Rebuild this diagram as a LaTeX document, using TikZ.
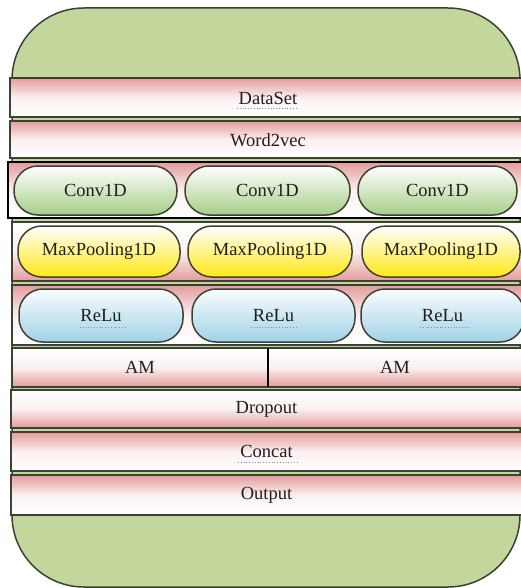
\documentclass[tikz,border=0pt]{standalone}
\usepackage{fontspec}
\setmainfont{Liberation Serif}
\definecolor{bggreen}{RGB}{195,214,155}
\definecolor{bandpink}{RGB}{228,155,155}
\definecolor{edge}{RGB}{58,66,52}
\definecolor{pillgreen}{RGB}{165,206,135}
\definecolor{pillyellow}{RGB}{255,232,20}
\definecolor{pillblue}{RGB}{160,210,230}
\definecolor{txt}{RGB}{35,30,30}
\definecolor{spellc}{RGB}{120,140,190}
\tikzset{
  band/.style={draw=edge, line width=1.8pt, inner sep=0pt, outer sep=0pt, anchor=north west,
    text=txt, font=\fontsize{18.5}{20}\selectfont},
  pinktop/.style={band, top color=bandpink, bottom color=white, middle color=white!85!bandpink},
  pinkbot/.style={band, top color=white, bottom color=bandpink, middle color=white!85!bandpink},
  pill/.style={draw=edge, line width=1.5pt, inner sep=0pt, outer sep=0pt, anchor=north west,
    rounded corners=24pt, text=txt, font=\fontsize{18.5}{20}\selectfont},
  convpill/.style={pill, top color=white, bottom color=pillgreen},
  maxpill/.style={pill, top color=white, bottom color=pillyellow},
  relupill/.style={pill, top color=white!95!pillblue, bottom color=pillblue},
  spell/.style={spellc, line width=0.8pt, dotted}
}
\begin{document}
\begin{tikzpicture}[x=1pt,y=-1pt]
\useasboundingbox (0,0) rectangle (521,588);
% background
\draw[fill=bggreen, draw=edge, line width=1.5pt, rounded corners=72pt] (12,8) rectangle (520,587);
% bands
\node[pinktop, minimum width=512pt, minimum height=39pt] (ds) at (10,78) {};
\node[txt, font=\fontsize{18.5}{20}\selectfont] (dst) at (268,98) {DataSet};
\node[pinktop, minimum width=512pt, minimum height=37pt] (wv) at (10,121) {};
\node[txt, font=\fontsize{18.5}{20}\selectfont] (wvt) at (268,140) {Word2vec};
\node[pinktop, draw=black, line width=1.2pt, minimum width=514pt, minimum height=56pt] (conv) at (8,162) {};
\node[pinkbot, minimum width=510pt, minimum height=59pt] (mp) at (12,222) {};
\node[pinktop, minimum width=510pt, minimum height=60pt] (rl) at (12,285) {};
\node[pinkbot, minimum width=256pt, minimum height=39pt] (am1) at (12,348) {AM};
\node[pinkbot, minimum width=254pt, minimum height=39pt] (am2) at (268,348) {AM};
\node[pinkbot, minimum width=511pt, minimum height=38pt] (dr) at (11,390) {Dropout};
\node[pinktop, minimum width=511pt, minimum height=39pt] (cc) at (11,432) {Concat};
\node[pinktop, minimum width=511pt, minimum height=40pt] (out) at (11,475) {Output};
\draw[black, line width=1.6pt] (am2.north west) -- (am2.south west);
% Conv1D pills
\node[convpill, minimum width=163pt, minimum height=49pt] (c1) at (14,166) {Conv1D};
\node[convpill, minimum width=165pt, minimum height=49pt] (c2) at (185,166) {Conv1D};
\node[convpill, minimum width=159pt, minimum height=49pt] (c3) at (358,166) {Conv1D};
% MaxPooling1D pills
\node[maxpill, minimum width=162pt, minimum height=51pt] (m1) at (18,226) {MaxPooling1D};
\node[maxpill, minimum width=164pt, minimum height=51pt] (m2) at (188,226) {MaxPooling1D};
\node[maxpill, minimum width=158pt, minimum height=51pt] (m3) at (362,226) {MaxPooling1D};
% ReLu pills
\node[relupill, minimum width=164pt, minimum height=53pt] (r1) at (19,289) {ReLu};
\node[relupill, minimum width=163pt, minimum height=53pt] (r2) at (192,289) {ReLu};
\node[relupill, minimum width=163pt, minimum height=53pt] (r3) at (361,289) {ReLu};
% spell-check dotted underlines
\draw[spell] (237,108) -- (297,108);
\draw[spell] (238,462) -- (297,462);
\draw[spell] (80,327) -- (125,327);
\draw[spell] (251,327) -- (297,327);
\draw[spell] (420,327) -- (468,327);
\end{tikzpicture}
\end{document}
